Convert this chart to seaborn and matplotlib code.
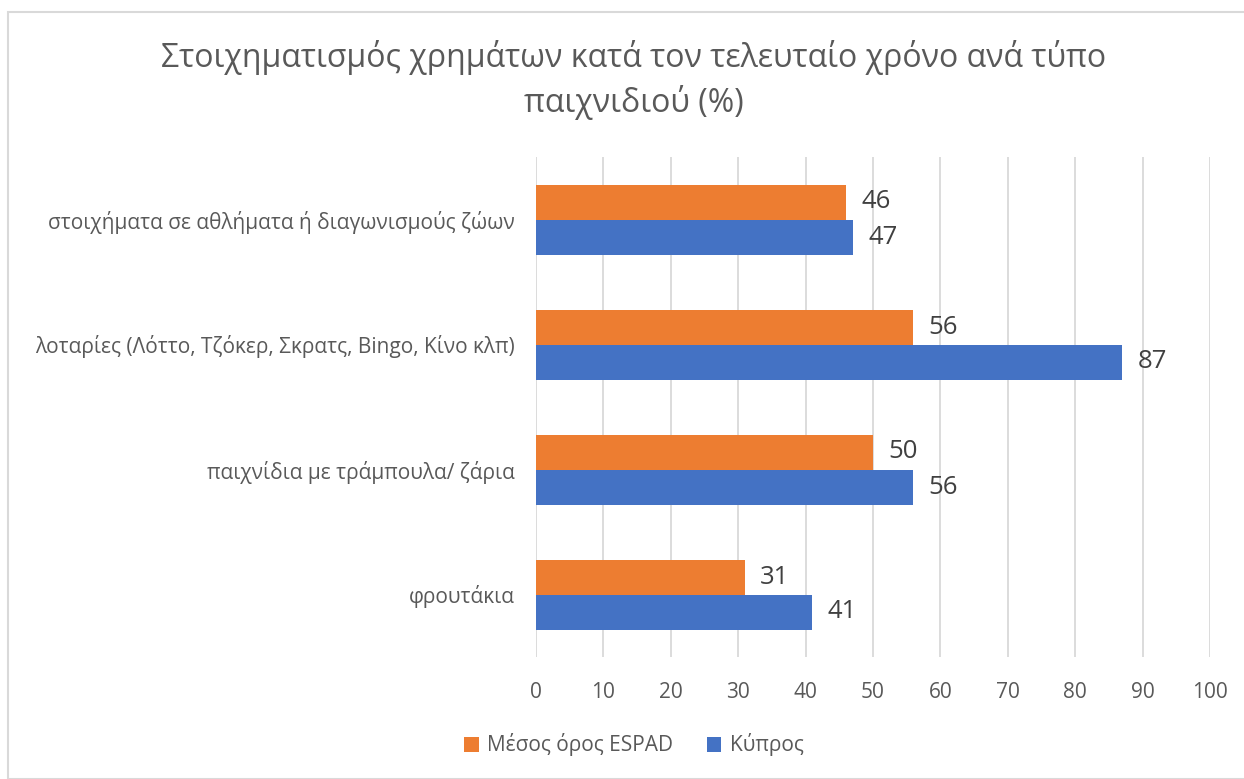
import matplotlib
matplotlib.use("Agg")
import matplotlib.pyplot as plt
import seaborn as sns
import pandas as pd
from matplotlib.patches import Rectangle, Patch

categories = [
    "στοιχήματα σε αθλήματα ή διαγωνισμούς ζώων",
    "λοταρίες (Λόττο, Τζόκερ, Σκρατς, Bingo, Κίνο κλπ)",
    "παιχνίδια με τράμπουλα/ ζάρια",
    "φρουτάκια",
]
espad = [46, 56, 50, 31]
cyprus = [47, 87, 56, 41]
series_names = ["Μέσος όρος ESPAD", "Κύπρος"]
xticks = [0, 10, 20, 30, 40, 50, 60, 70, 80, 90, 100]
title = "Στοιχηματισμός χρημάτων κατά τον τελευταίο χρόνο ανά τύπο\nπαιχνιδιού (%)"

df = pd.DataFrame({
    "cat": categories * 2,
    "val": espad + cyprus,
    "series": [series_names[0]] * 4 + [series_names[1]] * 4,
})

sns.set_style("white")
plt.rcParams["font.family"] = ["Open Sans", "DejaVu Sans"]
TXT = "#595959"
colors = ["#ED7D31", "#4472C4"]

fig = plt.figure(figsize=(12.44, 7.79), dpi=100)
ax = fig.add_axes([536/1244, 1 - 657/779, 674/1244, 500/779])
sns.barplot(data=df, y="cat", x="val", hue="series", hue_order=series_names,
            order=categories, palette=colors, width=0.56, saturation=1,
            orient="h", ax=ax, legend=False, zorder=3)
for p in ax.patches:
    p.set_edgecolor("none")

ax.set_xlim(0, 100)
ax.set_xticks(xticks)
ax.set_xticklabels([str(t) for t in xticks], color=TXT, fontsize=15)
ax.tick_params(axis="x", length=0, pad=18)
ax.tick_params(axis="y", length=0, pad=15)
for lbl in ax.get_yticklabels():
    lbl.set_color(TXT)
    lbl.set_fontsize(15)
ax.set_xlabel("")
ax.set_ylabel("")
ax.grid(axis="x", color="#D9D9D9", linewidth=1.3, zorder=0)
for s in ax.spines.values():
    s.set_visible(False)

for cont in ax.containers:
    ax.bar_label(cont, fmt="%d", padding=11, fontsize=18.5, color="#404040")

fig.text(634/1244, 1 - 80/779, title, ha="center", va="center",
         fontsize=23, color=TXT, linespacing=1.35)

handles = [Patch(facecolor=c, edgecolor="none") for c in colors]
fig.legend(handles, series_names, loc="center", bbox_to_anchor=(634/1244, 1 - 745/779),
           ncol=2, frameon=False, fontsize=15, handlelength=0.7, handleheight=0.7,
           handletextpad=0.4, columnspacing=1.6, labelcolor=TXT)

fig.patches.append(Rectangle((8/1244, 0), 1.0, 1 - 12/779, transform=fig.transFigure,
                             fill=False, edgecolor="#D9D9D9", linewidth=1.5))

fig.savefig("out.png", dpi=100)
